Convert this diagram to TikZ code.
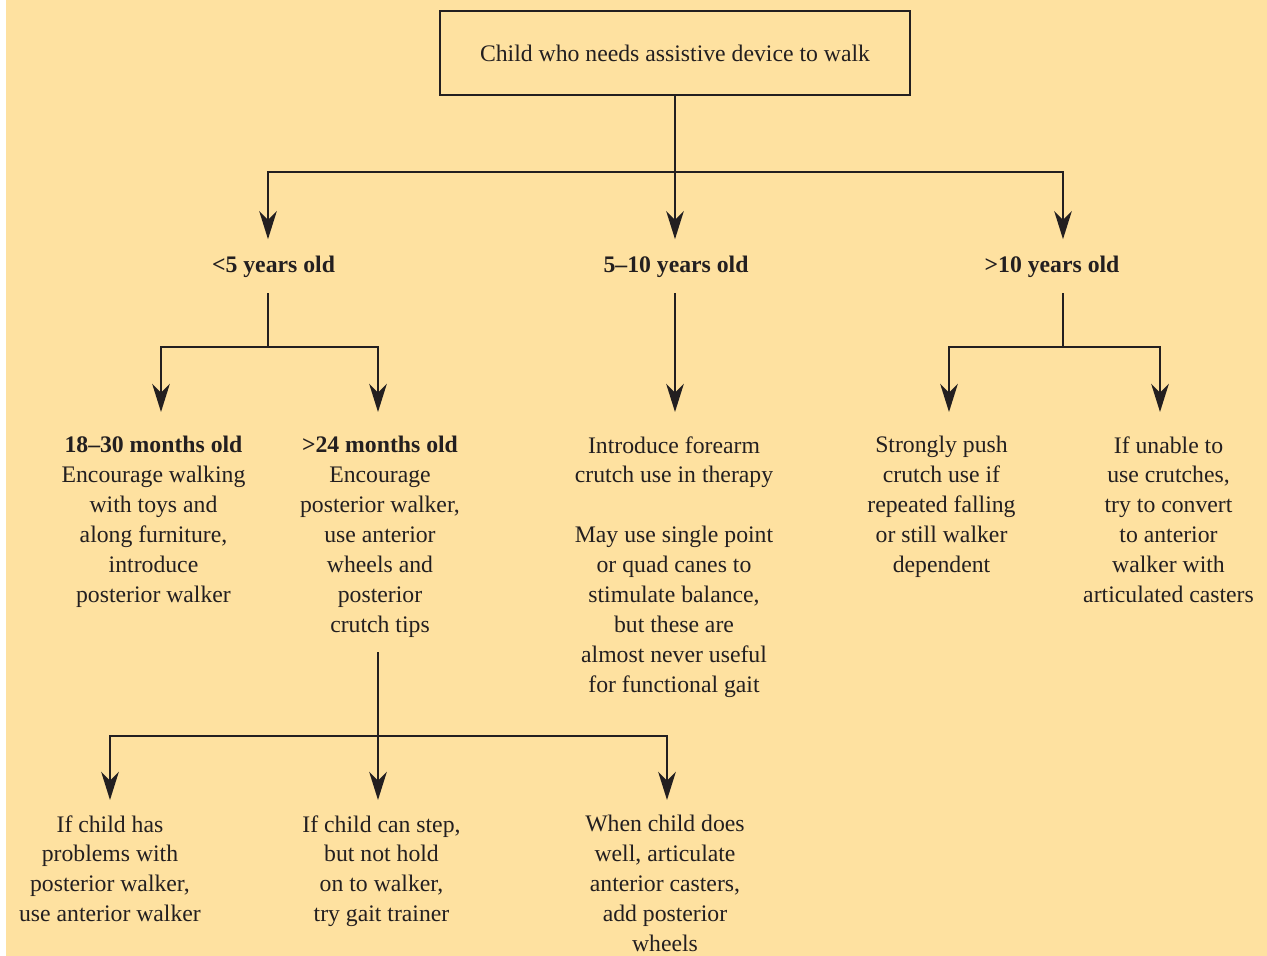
\documentclass[tikz,border=0pt]{standalone}
\usepackage{fontspec}
\setmainfont{Liberation Serif}
\usetikzlibrary{arrows.meta, positioning}
\definecolor{paper}{RGB}{254,225,160}
\definecolor{ink}{RGB}{35,31,32}
\tikzset{
    base/.style = {text=ink, font=\fontsize{13.5}{17}\selectfont},
    topbox/.style = {base, rectangle, draw=ink, line width=1.4pt, minimum width=9.4cm, minimum height=1.68cm},
    age/.style = {base, font=\fontsize{13.5}{17}\selectfont\bfseries, inner xsep=0pt, inner ysep=0.32cm, anchor=base},
    advice/.style = {base, align=center, inner xsep=0pt, inner ysep=0.3cm, anchor=north},
    link/.style = {line width=1.4pt, draw=ink},
    arrow/.style = {link, -{Stealth[length=16pt, width=10pt, inset=5pt]}}
}
\begin{document}
\begin{tikzpicture}[x=0.02cm, y=-0.02cm]
    % Canvas
    \useasboundingbox (0,0) rectangle (1267,956);
    \fill[white] (0,0) rectangle (1267,956);
    \fill[paper] (6,0) rectangle (1267,956);

    % Top: the child
    \node (child) [topbox] at (675,53) {Child who needs assistive device to walk};

    % Age groups
    \node (young) [age] at (273.5,272) {<5 years old};
    \node (middle) [age] at (676,272) {5--10 years old};
    \node (older) [age] at (1052,272) {>10 years old};

    % Advice per age group
    \node (toddler) [advice] at (153.5,421) {\textbf{18--30 months old}\\Encourage walking\\with toys and\\along furniture,\\introduce\\posterior walker};
    \node (walker) [advice] at (380,421) {\textbf{>24 months old}\\Encourage\\posterior walker,\\use anterior\\wheels and\\posterior\\crutch tips};
    \node (crutch) [advice] at (674,421) {Introduce forearm\\crutch use in therapy\\[17pt]May use single point\\or quad canes to\\stimulate balance,\\but these are\\almost never useful\\for functional gait};
    \node (push) [advice] at (941.5,421) {Strongly push\\crutch use if\\repeated falling\\or still walker\\dependent};
    \node (convert) [advice] at (1168.5,421) {If unable to\\use crutches,\\try to convert\\to anterior\\walker with\\articulated casters};

    % Walker follow-ups
    \node (anterior) [advice] at (110,800) {If child has\\problems with\\posterior walker,\\use anterior walker};
    \node (trainer) [advice] at (381.5,800) {If child can step,\\but not hold\\on to walker,\\try gait trainer};
    \node (casters) [advice] at (665,800) {When child does\\well, articulate\\anterior casters,\\add posterior\\wheels};

    % Junctions and arrow tips
    \coordinate (hub) at (675,172);
    \coordinate (fyoung) at (268,347);
    \coordinate (fold) at (1063,347);
    \coordinate (fwalk) at (378,736);
    \coordinate (ttoddler) at (161,412);
    \coordinate (twalker) at (378,412);
    \coordinate (tcrutch) at (675,412);
    \coordinate (tpush) at (949,412);
    \coordinate (tconvert) at (1160,412);
    \coordinate (tanterior) at (110,800);
    \coordinate (ttrainer) at (378,800);
    \coordinate (tcasters) at (667,800);

    % Child -> age groups
    \draw [link] (child) -- (hub);
    \draw [arrow] (hub) -| (young.north -| fyoung);
    \draw [arrow] (hub) -- (middle.north -| hub);
    \draw [arrow] (hub) -| (older.north -| fold);

    % Age groups -> advice
    \draw [link] (young.south -| fyoung) -- (fyoung);
    \draw [arrow] (fyoung) -| (ttoddler);
    \draw [arrow] (fyoung) -| (twalker);
    \draw [arrow] (middle.south -| hub) -- (tcrutch);
    \draw [link] (older.south -| fold) -- (fold);
    \draw [arrow] (fold) -| (tpush);
    \draw [arrow] (fold) -| (tconvert);

    % Walker -> follow-ups
    \draw [link] (walker.south -| fwalk) -- (fwalk);
    \draw [arrow] (fwalk) -| (tanterior);
    \draw [arrow] (fwalk) -- (ttrainer);
    \draw [arrow] (fwalk) -| (tcasters);
\end{tikzpicture}
\end{document}
